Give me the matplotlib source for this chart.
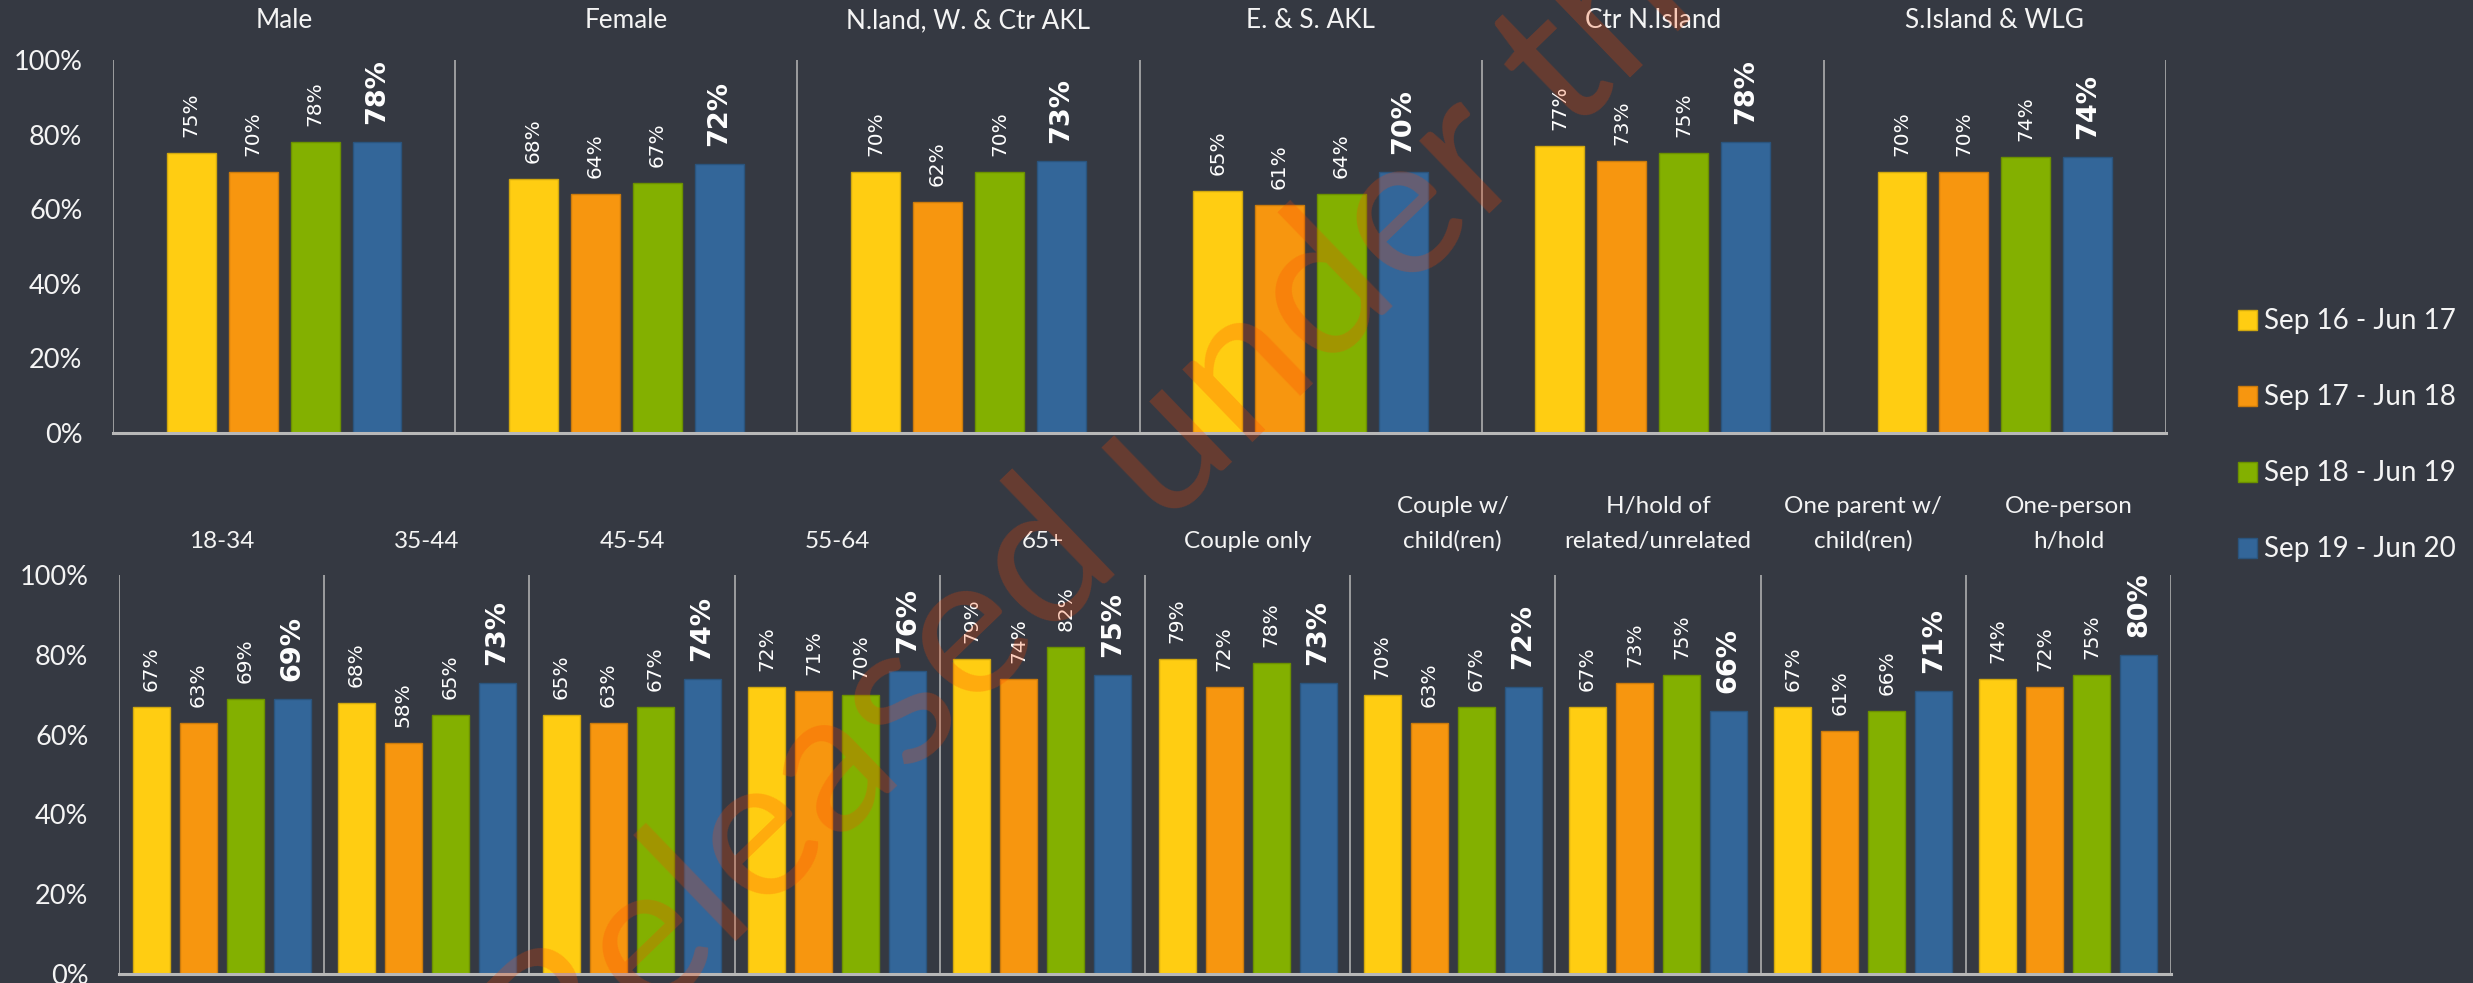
import matplotlib
matplotlib.use("Agg")
import matplotlib.pyplot as plt
from matplotlib.colors import to_rgb
from matplotlib.transforms import blended_transform_factory

# ---- data -------------------------------------------------------------
periods = ["Sep 16 - Jun 17", "Sep 17 - Jun 18", "Sep 18 - Jun 19", "Sep 19 - Jun 20"]
colors = ["#FFCD12", "#F7960F", "#83B000", "#336699"]

top_groups = ["Male", "Female", "N.land, W. & Ctr AKL", "E. & S. AKL",
              "Ctr N.Island", "S.Island & WLG"]
top_p1 = [75, 68, 70, 65, 77, 70]
top_p2 = [70, 64, 62, 61, 73, 70]
top_p3 = [78, 67, 70, 64, 75, 74]
top_p4 = [78, 72, 73, 70, 78, 74]

bottom_groups = ["18-34", "35-44", "45-54", "55-64", "65+", "Couple only",
                 "Couple w/\nchild(ren)", "H/hold of\nrelated/unrelated",
                 "One parent w/\nchild(ren)", "One-person\nh/hold"]
bot_p1 = [67, 68, 65, 72, 79, 79, 70, 67, 67, 74]
bot_p2 = [63, 58, 63, 71, 74, 72, 63, 73, 61, 72]
bot_p3 = [69, 65, 67, 70, 82, 78, 67, 75, 66, 75]
bot_p4 = [69, 73, 74, 76, 75, 73, 72, 66, 71, 80]

yticks = [0, 20, 40, 60, 80, 100]
ytick_labels = ["0%", "20%", "40%", "60%", "80%", "100%"]

# ---- style ------------------------------------------------------------
BG = "#353942"
TXT = "#F4F4F4"
GRID = "#B8B8B8"
TITLE_FONT = ["Lato", "DejaVu Sans"]
LABEL_FONT = ["DejaVu Sans"]

W, H = 2473, 983
fig = plt.figure(figsize=(W / 100, H / 100), dpi=100, facecolor=BG)


def px_axes(left, top, right, bottom):
    return fig.add_axes([left / W, 1 - bottom / H, (right - left) / W, (bottom - top) / H])


def darker(c, f=0.82):
    r, g, b = to_rgb(c)
    return (r * f, g * f, b * f)


def panel(ax, groups, series, pitch, width, title_base_px, line_gap, title_size):
    n = len(groups)
    ax.set_facecolor(BG)
    ax.set_xlim(0, n)
    ax.set_ylim(0, 100)
    for s in ["top", "right", "left"]:
        ax.spines[s].set_visible(False)
    ax.spines["bottom"].set_color(GRID)
    ax.spines["bottom"].set_linewidth(2.2)
    ax.set_xticks([])
    ax.set_yticks(yticks)
    ax.set_yticklabels(ytick_labels, fontfamily=TITLE_FONT, fontsize=19.5, color=TXT)
    ax.tick_params(axis="y", length=0, pad=22)
    for k in range(n + 1):
        ax.axvline(k, ymin=0, ymax=1, color=GRID, lw=1.1, zorder=1)

    for i, vals in enumerate(series):
        xs = [g + 0.5 + (i - 1.5) * pitch for g in range(n)]
        ax.bar(xs, vals, width=width, color=colors[i], edgecolor=darker(colors[i]),
               linewidth=1.0, zorder=2, label=periods[i])
        last = i == len(series) - 1
        for x, v in zip(xs, vals):
            ax.annotate(f"{v}%", (x, v), xytext=(0, 13 if last else 11.5),
                        textcoords="offset points", rotation=90,
                        ha="center", va="bottom", color="white",
                        fontsize=19.5 if last else 14.5,
                        fontweight="bold" if last else "normal",
                        fontfamily=LABEL_FONT, zorder=3)

    # group titles, drawn line by line above each group
    trans = blended_transform_factory(ax.transData, fig.transFigure)
    for g, name in enumerate(groups):
        lines = name.split("\n")
        base = title_base_px - line_gap * (len(lines) - 1)
        for j, line in enumerate(lines):
            y_px = base + j * line_gap
            ax.text(g + 0.5, 1 - y_px / H, line, transform=trans,
                    ha="center", va="baseline", color=TXT, fontsize=title_size,
                    fontfamily=TITLE_FONT)


ax_top = px_axes(113, 60, 2166, 433)
panel(ax_top, top_groups, [top_p1, top_p2, top_p3, top_p4],
      pitch=0.181, width=0.143, title_base_px=28, line_gap=35, title_size=18.8)

ax_bot = px_axes(119, 575, 2171, 974)
panel(ax_bot, bottom_groups, [bot_p1, bot_p2, bot_p3, bot_p4],
      pitch=0.229, width=0.18, title_base_px=548, line_gap=35, title_size=17.5)

# legend on the right
handles, labels = ax_top.get_legend_handles_labels()
fig.legend(handles, labels, loc="center left",
           bbox_to_anchor=(2238 / W, 1 - 435.5 / H), frameon=False,
           borderpad=0, borderaxespad=0, handlelength=0.7, handleheight=0.7,
           handletextpad=0.25, labelspacing=1.8,
           prop={"family": TITLE_FONT, "size": 20}, labelcolor=TXT)

# diagonal watermark
sx, sy = 560, 1112
fig.text(sx / W, 1 - sy / H, "Released under the Official Information Act 1982",
         rotation=44, rotation_mode="anchor", ha="left", va="baseline",
         fontsize=144, fontfamily=TITLE_FONT, color="#FF4600", alpha=0.25,
         zorder=10)

fig.savefig("out.png", dpi=100, facecolor=BG)
